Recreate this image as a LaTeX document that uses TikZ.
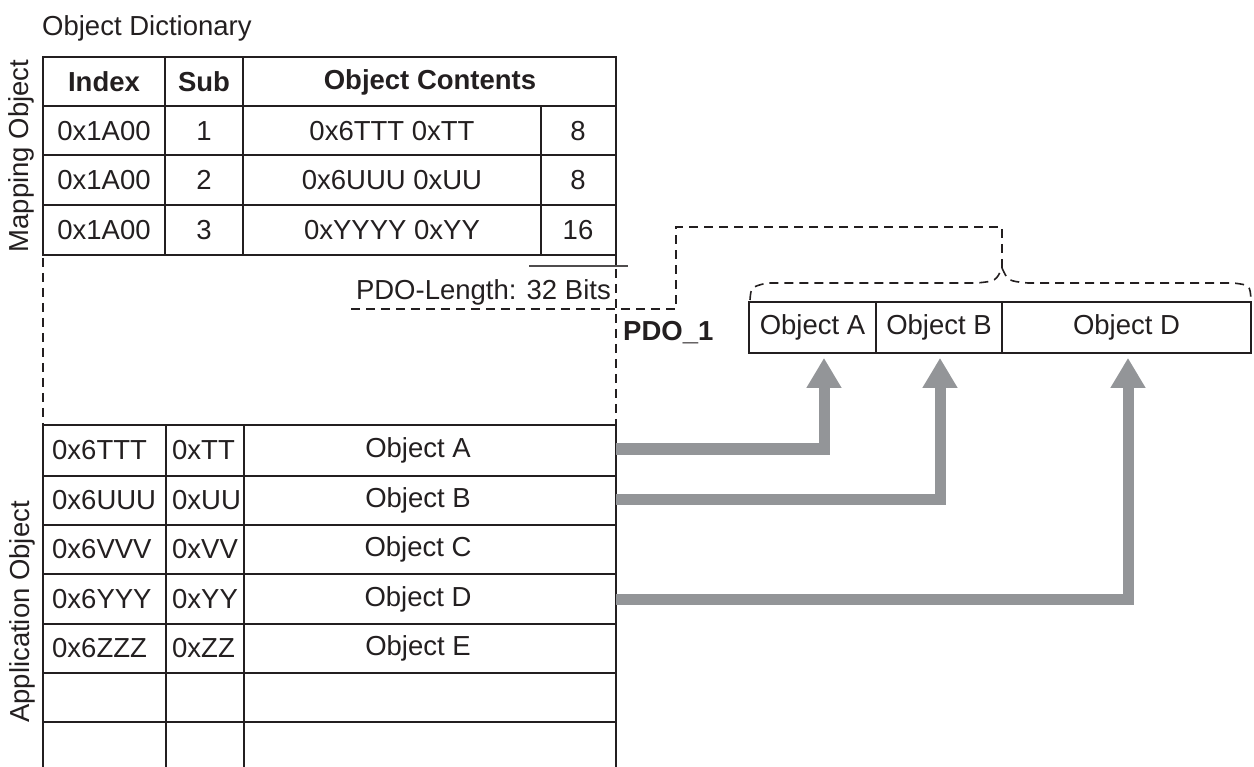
\documentclass[tikz,border=0pt]{standalone}
\usepackage{fontspec}
\setmainfont{Liberation Sans}
\usetikzlibrary{arrows.meta}
\definecolor{ink}{HTML}{231F20}
\definecolor{arrowgray}{HTML}{939598}
\begin{document}
\begin{tikzpicture}[x=1pt,y=-1pt,
  txt/.style={inner sep=0pt, text=ink, font=\fontsize{27.5}{33}\selectfont},
  boldtxt/.style={inner sep=0pt, text=ink, font=\fontsize{27.5}{33}\selectfont\bfseries},
  gridline/.style={draw=ink, line width=1.8pt},
  cellbox/.style={draw=ink, line width=1.8pt, inner sep=0pt, text=ink, font=\fontsize{27.5}{33}\selectfont, minimum height=51pt},
  objcell/.style={inner sep=0pt, text=ink, font=\fontsize{27.5}{33}\selectfont, minimum width=372pt, minimum height=49pt},
  dsh/.style={draw=ink, line width=1.6pt, dash pattern=on 9pt off 6pt},
  arr/.style={draw=arrowgray, line width=11pt, line join=miter, -{Triangle[width=33pt,length=30pt]}, shorten >=-4pt},
]
\useasboundingbox (0,0) rectangle (1254,767);

% ---------- title and side labels ----------
\node[txt, anchor=west] (title) at (42,28) {Object Dictionary};
\node[txt, rotate=90] (maplabel) at (21,156) {Mapping Object};
\node[txt, rotate=90] (applabel) at (22,612) {Application Object};

% ---------- mapping object table ----------
\draw[gridline] (43,57) rectangle (616,255);
\draw[gridline] (43,106) -- (616,106) (43,155) -- (616,155) (43,205) -- (616,205);
\draw[gridline] (165,57) -- (165,255) (243,57) -- (243,255) (541,106) -- (541,255);
\draw[gridline] (616,255) -- (616,266);

\node[boldtxt] (hidx) at (104,82) {Index};
\node[boldtxt] (hsub) at (204,82) {Sub};
\node[boldtxt] (hcont) at (430,82) {Object Contents};

\node[txt] (m1i) at (104,131) {0x1A00};
\node[txt] (m1s) at (204,131) {1};
\node[txt] (m1c) at (392,131) {0x6TTT 0xTT};
\node[txt] (m1b) at (578,131) {8};
\node[txt] (m2i) at (104,180) {0x1A00};
\node[txt] (m2s) at (204,180) {2};
\node[txt] (m2c) at (392,180) {0x6UUU 0xUU};
\node[txt] (m2b) at (578,180) {8};
\node[txt] (m3i) at (104,230) {0x1A00};
\node[txt] (m3s) at (204,230) {3};
\node[txt] (m3c) at (392,230) {0xYYYY 0xYY};
\node[txt] (m3b) at (578,230) {16};

% PDO length marker
\draw[draw=ink!80, line width=2.2pt] (529,266) -- (628,266);
\node[txt, anchor=east] (pdolen) at (611,292) {PDO-Length: 32 Bits};

% dashed guide lines
\draw[dsh] (43,258) -- (43,425);
\draw[dsh] (616,269) -- (616,425);
\draw[dsh] (351,309) -- (676,309) -- (676,227) -- (1002,227) -- (1002,268);
\draw[dsh] (750,300) .. controls (751,287) .. (767,283) -- (977,283) .. controls (996,281) .. (1002,268);
\draw[dsh] (1002,268) .. controls (1008,281) .. (1028,283) -- (1233,283) .. controls (1250,285) .. (1251,300);

% ---------- PDO ----------
\node[boldtxt, anchor=west] (pdo) at (623,333) {PDO\_1};
\node[cellbox, minimum width=127pt] (pa) at (812.5,327.5) {Object A};
\node[cellbox, minimum width=126pt] (pb) at (939,327.5) {Object B};
\node[cellbox, minimum width=249pt] (pd) at (1126.5,327.5) {Object D};

% ---------- application object table ----------
\draw[gridline] (43,767) -- (43,425) -- (616,425) -- (616,767);
\draw[gridline] (43,476) -- (616,476) (43,525) -- (616,525) (43,574) -- (616,574)
                (43,624) -- (616,624) (43,673) -- (616,673) (43,722) -- (616,722);
\draw[gridline] (166,425) -- (166,767) (244,425) -- (244,767);

\node[txt, anchor=west] (a1i) at (52,450) {0x6TTT};
\node[txt, anchor=west] (a1s) at (172,450) {0xTT};
\node[objcell] (oA) at (430,450) {Object A\hspace*{24pt}};
\node[txt, anchor=west] (a2i) at (52,500) {0x6UUU};
\node[txt, anchor=west] (a2s) at (172,500) {0xUU};
\node[objcell] (oB) at (430,500) {Object B\hspace*{24pt}};
\node[txt, anchor=west] (a3i) at (52,549.5) {0x6VVV};
\node[txt, anchor=west] (a3s) at (172,549.5) {0xVV};
\node[objcell] (oC) at (430,549.5) {Object C\hspace*{24pt}};
\node[txt, anchor=west] (a4i) at (52,599) {0x6YYY};
\node[txt, anchor=west] (a4s) at (172,599) {0xYY};
\node[objcell] (oD) at (430,599) {Object D\hspace*{24pt}};
\node[txt, anchor=west] (a5i) at (52,648.5) {0x6ZZZ};
\node[txt, anchor=west] (a5s) at (172,648.5) {0xZZ};
\node[objcell] (oE) at (430,648.5) {Object E\hspace*{24pt}};

% ---------- arrows ----------
\draw[arr, shorten >=4pt] ([yshift=1pt]oA.east) -| ([xshift=11.5pt]pa.south);
\draw[arr, shorten >=4pt] ([yshift=1pt]oB.east) -| ([xshift=1pt]pb.south);
\draw[arr, shorten >=4pt] (oD.east) -| ([xshift=1.5pt]pd.south);
\end{tikzpicture}
\end{document}
